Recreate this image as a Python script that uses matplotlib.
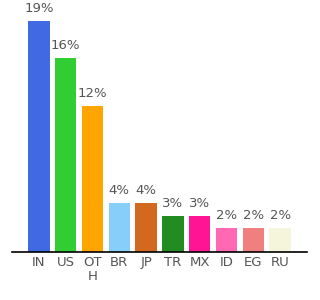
import matplotlib
matplotlib.use('Agg')
from matplotlib import pyplot as plt

# data
countries = ['IN', 'US', 'OT\nH', 'BR', 'JP', 'TR', 'MX', 'ID', 'EG', 'RU']
shares = [19.0, 15.95, 12.0, 4.03, 4.03, 2.96, 2.96, 1.97, 1.97, 1.97]
labels = ['19%', '16%', '12%', '4%', '4%', '3%', '3%', '2%', '2%', '2%']
colors = ['#4169E1', '#32CD32', '#FFA500', '#87CEFA', '#D2691E',
          '#228B22', '#FF1493', '#FF69B4', '#F08080', '#F5F5DC']

fig = plt.figure(figsize=(3.2, 3.0), dpi=100)
ax = fig.add_axes([12/320, 48/300, 295/320, 247/300])

x = range(len(countries))
bars = ax.bar(x, shares, width=0.8, color=colors)

for b, lab in zip(bars, labels):
    ax.annotate(lab, (b.get_x() + b.get_width()/2, b.get_height()),
                xytext=(0, 4.5), textcoords='offset points',
                ha='center', va='bottom', fontsize=9.5, color='#555555')

ax.set_xlim(-1, len(countries))
ax.set_ylim(0, 247/12.16)
ax.set_xticks(list(x))
ax.set_xticklabels(countries, fontsize=9.5, color='#555555', linespacing=1.1)
ax.tick_params(axis='x', length=0, pad=3)
ax.set_yticks([])
for s in ['top', 'right', 'left']:
    ax.spines[s].set_visible(False)
ax.spines['bottom'].set_linewidth(1.2)

fig.savefig('out.png', dpi=100)
